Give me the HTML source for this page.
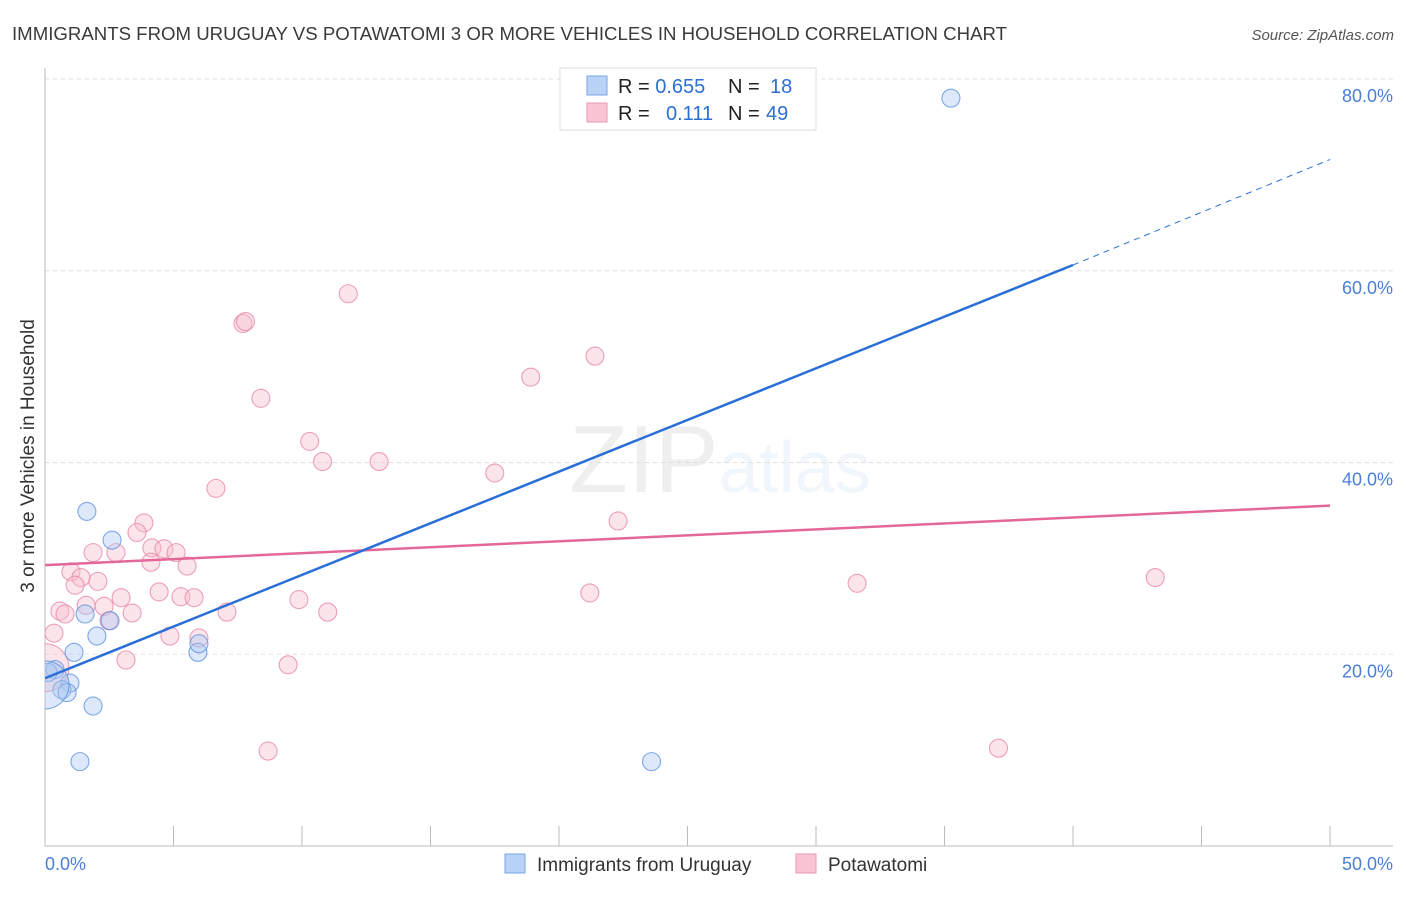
<!DOCTYPE html>
<html><head><meta charset="utf-8"><style>
body{margin:0;background:#fff;font-family:"Liberation Sans",sans-serif}
svg text{font-family:"Liberation Sans",sans-serif}
</style></head><body>
<svg id="chart" width="1406" height="892" viewBox="0 0 1406 892">
<defs><clipPath id="plot"><rect x="45" y="60" width="1360" height="786"/></clipPath></defs>
<text x="12" y="40" font-size="18" fill="#3a3a3a" textLength="995" lengthAdjust="spacingAndGlyphs">IMMIGRANTS FROM URUGUAY VS POTAWATOMI 3 OR MORE VEHICLES IN HOUSEHOLD CORRELATION CHART</text>
<text x="1394" y="40" font-size="15" fill="#555" text-anchor="end" font-style="italic">Source: ZipAtlas.com</text>
<text x="720" y="492" font-size="96" text-anchor="middle" fill="#000" opacity="0.06" font-family="Liberation Serif">ZIP<tspan fill="#2b6fd6" font-family="Liberation Sans" font-size="72">atlas</tspan></text>
<g id="grid"></g><g id="axes"></g><g id="marks" clip-path="url(#plot)"></g>
<text transform="translate(34,456) rotate(-90)" font-size="19" fill="#333" text-anchor="middle">3 or more Vehicles in Household</text>
<g>
<rect x="560" y="68" width="256" height="62" fill="#fff" stroke="#ddd"/>
<rect x="587" y="76" width="20" height="19" fill="#b8d3f5" stroke="#7aa6e6"/>
<rect x="587" y="103" width="20" height="19" fill="#f9c5d5" stroke="#ec97b2"/>
<text x="618" y="93" font-size="20" fill="#222">R = <tspan fill="#2b6fd6">0.655</tspan><tspan x="728">N = </tspan><tspan fill="#2b6fd6" x="770">18</tspan></text>
<text x="618" y="120" font-size="20" fill="#222">R = <tspan fill="#2b6fd6" x="666">0.111</tspan><tspan x="728">N = </tspan><tspan fill="#2b6fd6" x="766">49</tspan></text>
</g>
<g>
<rect x="505" y="854" width="20" height="19" fill="#b8d3f5" stroke="#7aa6e6"/>
<text x="537" y="871" font-size="19" fill="#333">Immigrants from Uruguay</text>
<rect x="796" y="854" width="20" height="19" fill="#f9c5d5" stroke="#ec97b2"/>
<text x="828" y="871" font-size="19" fill="#333">Potawatomi</text>
</g>
</svg>
<script>
const yTicks=[20,40,60,80];
const yTickLabels=["20.0%","40.0%","60.0%","80.0%"];
const xEndLabels=["0.0%","50.0%"];
const blueX=[35.25,1.63,2.61,1.56,2.53,2.02,1.13,5.95,5.99,0.39,0.12,0.97,0.66,0.86,1.87,1.36,23.6,0];
const blueY=[78.0,34.9,31.9,24.2,23.5,21.9,20.2,20.2,21.1,18.4,18.1,17.0,16.3,16.0,14.6,8.8,8.8,16.8];
const pinkX=[11.8,7.7,7.8,21.4,18.9,8.4,10.3,10.8,13.0,17.5,6.65,22.3,3.85,3.58,1.87,2.76,4.16,4.63,5.1,4.12,5.53,1.01,1.4,1.17,2.06,31.6,43.2,4.44,2.96,5.29,5.8,9.88,21.2,1.6,2.3,0.58,0.78,3.39,7.08,11.0,2.49,0.35,4.86,5.99,3.15,9.46,8.68,37.1,0];
const pinkY=[57.6,54.5,54.7,51.1,48.9,46.7,42.2,40.1,40.1,38.9,37.3,33.9,33.7,32.7,30.6,30.6,31.1,31.0,30.6,29.6,29.2,28.6,28.0,27.2,27.6,27.4,28.0,26.5,25.9,26.0,25.9,25.7,26.4,25.1,25.0,24.5,24.2,24.3,24.4,24.4,23.5,22.2,21.9,21.7,19.4,18.9,9.9,10.2,18.6];
const blueTrend=[17.5,60.6,71.6]; // at x=0, 40, 50
const pinkTrend=[29.3,35.5]; // at x=0, 50
const X=v=>45+v*25.7, Y=v=>846-v*9.5875;
const NS="http://www.w3.org/2000/svg";
function mk(t,a,p){const e=document.createElementNS(NS,t);for(const k in a)e.setAttribute(k,a[k]);p.appendChild(e);return e;}
const grid=document.getElementById('grid'),axes=document.getElementById('axes'),marks=document.getElementById('marks');
yTicks.forEach((t,i)=>{
 const l=mk('line',{x1:45,x2:1393,y1:Y(t),y2:Y(t),stroke:'#ddd','stroke-dasharray':'4,4'},grid);
 
 
 const tx=mk('text',{x:1393,y:Y(t)+23,'font-size':18,fill:'#4a7fd6','text-anchor':'end'},axes);
 tx.textContent=yTickLabels[i];
 
 
});
const ax=mk('line',{x1:45,x2:45,y1:68,y2:846,stroke:'#bbb'},axes);


const bx=mk('line',{x1:45,x2:1393,y1:846,y2:846,stroke:'#bbb'},axes);


for(let i=0;i<=10;i++){const t=mk('line',{x1:X(i*5),x2:X(i*5),y1:826,y2:846,stroke:'#bbb'},axes);
 
 }
[[0,'start'],[50,'end']].forEach((p,i)=>{const t=mk('text',{x:i?1393:45,y:870,'font-size':18,fill:'#4a7fd6','text-anchor':p[1]},axes);t.textContent=xEndLabels[i];
 
 });
function dot(x,y,c,s,name,r){const e=mk('circle',{cx:X(x),cy:Y(y),r:r,fill:c,'fill-opacity':0.4,stroke:s,'stroke-width':1.1,'stroke-opacity':0.8},marks);
 
 }
pinkX.forEach((x,i)=>dot(x,pinkY[i],'#f7bccd','#e88aa8','potawatomi-point',x===0?24:9));
blueX.forEach((x,i)=>dot(x,blueY[i],'#aac9f2','#5f94e0','uruguay-point',x===0?24:9));
const pl=mk('line',{x1:X(0),y1:Y(pinkTrend[0]),x2:X(50),y2:Y(pinkTrend[1]),stroke:'#e4679a','stroke-width':2.5},marks);


const bl=mk('line',{x1:X(0),y1:Y(blueTrend[0]),x2:X(40),y2:Y(blueTrend[1]),stroke:'#2a6fd8','stroke-width':2.5},marks);


const bd=mk('line',{x1:X(40),y1:Y(blueTrend[1]),x2:X(50),y2:Y(blueTrend[2]),stroke:'#2a6fd8','stroke-width':1,'stroke-dasharray':'6,5'},marks);


</script>
</body></html>
